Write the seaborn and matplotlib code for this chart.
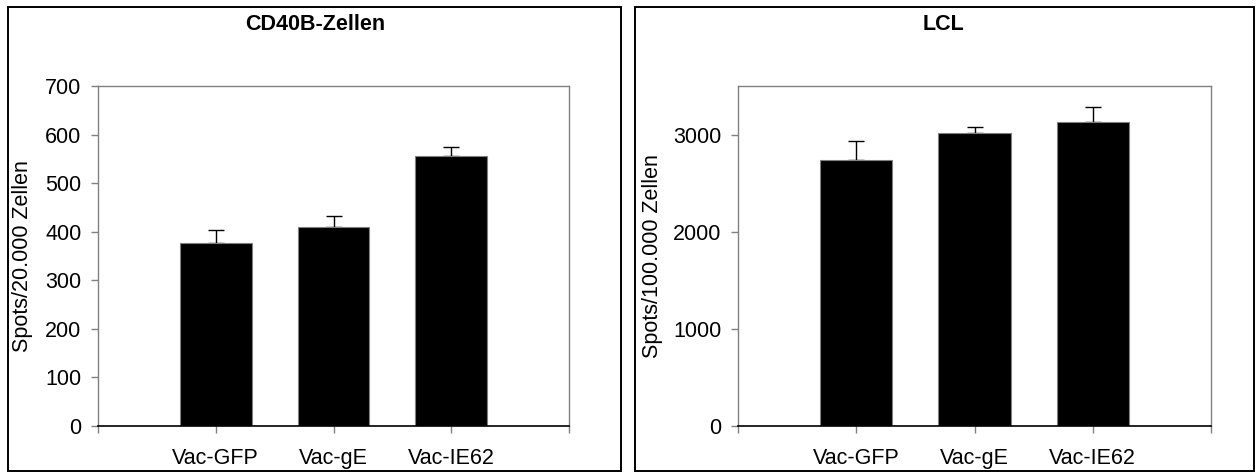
import matplotlib
matplotlib.use("Agg")
import matplotlib.pyplot as plt
from matplotlib.patches import Rectangle
import seaborn as sns
import pandas as pd

# Data
groups = ["Vac-GFP", "Vac-gE", "Vac-IE62"]
cd40b_spots = [377, 409, 556]
cd40b_err = [26, 23, 18]
lcl_spots = [2734, 3021, 3134]
lcl_err = [195, 55, 150]

sns.set_theme(style="white")
plt.rcParams["font.family"] = ["Liberation Sans", "DejaVu Sans"]
plt.rcParams["font.size"] = 15.5
plt.rcParams["text.color"] = "black"
plt.rcParams["xtick.labelcolor"] = "black"
plt.rcParams["ytick.labelcolor"] = "black"

FS = 15.5
W, H = 1260, 476
fig = plt.figure(figsize=(W / 100, H / 100), dpi=100)


def fx(px):
    return px / W


def fy(py):
    return 1 - py / H


# outer frames around each panel
for x0, x1 in [(8, 621), (635, 1254)]:
    fig.patches.append(Rectangle((fx(x0), fy(471)), fx(x1 - x0), (471 - 7) / H,
                                 transform=fig.transFigure, fill=False,
                                 edgecolor="black", linewidth=1.4, zorder=0))

panels = [
    dict(left=98, right=569, vals=cd40b_spots, err=cd40b_err, ymax=700,
         yticks=[0, 100, 200, 300, 400, 500, 600, 700],
         ylabel="Spots/20.000 Zellen", title="CD40B-Zellen", title_x=315, ylab_x=23),
    dict(left=738, right=1211, vals=lcl_spots, err=lcl_err, ymax=3500,
         yticks=[0, 1000, 2000, 3000],
         ylabel="Spots/100.000 Zellen", title="LCL", title_x=944, ylab_x=652),
]

grey = "#808080"
for p in panels:
    ax = fig.add_axes([fx(p["left"]), fy(426), fx(p["right"] - p["left"]), (426 - 86) / H])
    df = pd.DataFrame({"group": groups, "spots": p["vals"]})
    sns.barplot(data=df, x="group", y="spots", order=groups, color="black",
                width=0.61, edgecolor=grey, linewidth=0.8, saturation=1,
                errorbar=None, ax=ax, zorder=2)
    # upper error bars only, drawn beneath the bars
    ax.errorbar(range(len(groups)), p["vals"], yerr=[[0] * len(groups), p["err"]],
                fmt="none", ecolor="black", elinewidth=1.0, capsize=6, capthick=1.0,
                zorder=1)
    ax.set_xlim(-1, 3)
    ax.set_ylim(0, p["ymax"])
    ax.set_xticks([-1, 0, 1, 2, 3], ["", *groups, ""])
    ax.set_yticks(p["yticks"])
    ax.set_xlabel("")
    ax.set_ylabel("")
    for side in ["top", "right", "left"]:
        ax.spines[side].set_visible(True)
        ax.spines[side].set_color(grey)
        ax.spines[side].set_linewidth(1.0)
    ax.spines["bottom"].set_color("black")
    ax.spines["bottom"].set_linewidth(1.2)
    ax.tick_params(axis="y", direction="out", length=5, width=1.0, color=grey,
                   labelsize=FS, labelcolor="black", pad=7, left=True)
    ax.tick_params(axis="x", direction="out", length=5, width=1.0, color=grey,
                   labelsize=FS, labelcolor="black", pad=11, bottom=True)
    fig.text(fx(p["ylab_x"]), fy(256), p["ylabel"], rotation=90, ha="center",
             va="center", fontsize=FS, color="black")
    fig.text(fx(p["title_x"]), fy(25), p["title"], ha="center", va="center",
             fontsize=FS, fontweight="bold", color="black")

fig.savefig("out.png", dpi=100, facecolor="white")
